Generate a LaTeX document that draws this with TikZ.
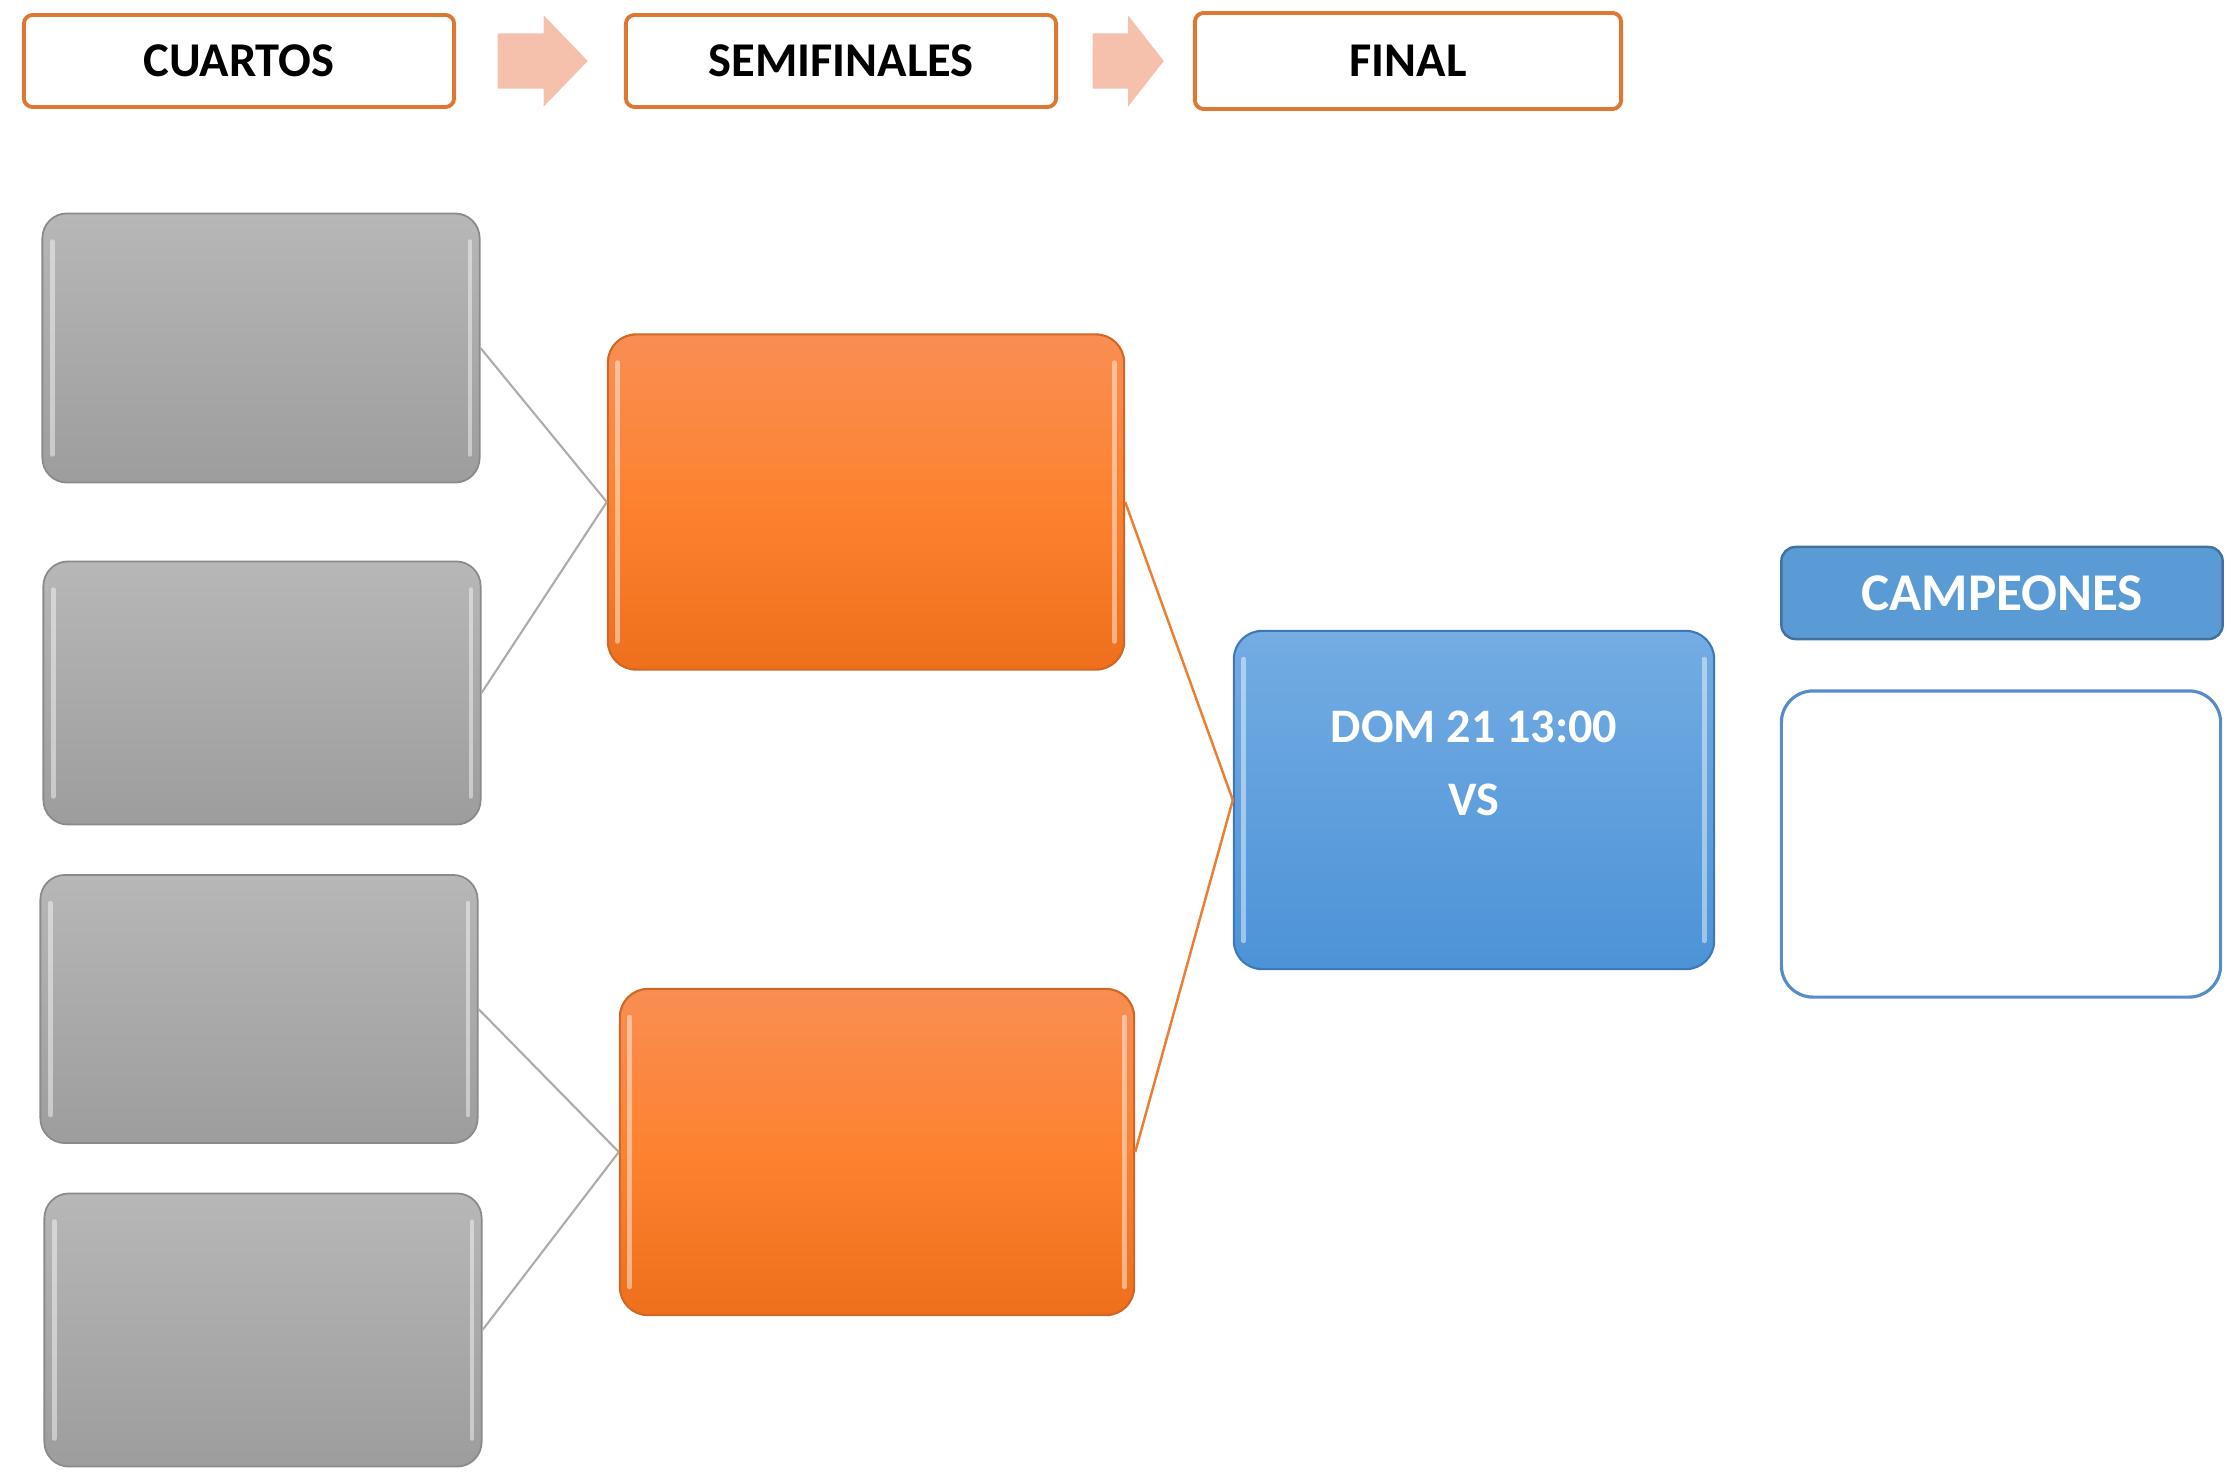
\documentclass[tikz,border=0pt]{standalone}
\usepackage{fontspec}
\setmainfont{Carlito}
\usetikzlibrary{shapes.arrows}
\definecolor{hdrorange}{RGB}{222,119,50}
\definecolor{arrowpink}{RGB}{245,193,173}
\definecolor{graytop}{RGB}{183,183,183}
\definecolor{graybot}{RGB}{157,157,157}
\definecolor{grayedge}{RGB}{138,138,138}
\definecolor{orangetop}{RGB}{249,142,83}
\definecolor{orangemid}{RGB}{253,130,48}
\definecolor{orangebot}{RGB}{238,111,28}
\definecolor{orangeedge}{RGB}{205,104,38}
\definecolor{bluetop}{RGB}{116,172,227}
\definecolor{bluebot}{RGB}{76,147,215}
\definecolor{blueedge}{RGB}{62,120,184}
\definecolor{campfill}{RGB}{91,155,213}
\definecolor{campedge}{RGB}{65,113,156}
\definecolor{champedge}{RGB}{88,140,200}
\definecolor{lineorange}{RGB}{237,125,49}
\definecolor{linegray}{RGB}{172,172,172}
\tikzset{
  gloss/.style={path picture={
    \draw[white,opacity=0.45,line width=1.3pt,line cap=round]
      ([xshift=2.8pt,yshift=-8pt]path picture bounding box.north west) -- ([xshift=2.8pt,yshift=8pt]path picture bounding box.south west);
    \draw[white,opacity=0.45,line width=1.3pt,line cap=round]
      ([xshift=-2.8pt,yshift=-8pt]path picture bounding box.north east) -- ([xshift=-2.8pt,yshift=8pt]path picture bounding box.south east);
  }},
  hdrbox/.style={rectangle,draw=hdrorange,line width=1.1pt,rounded corners=2.5pt,fill=white,inner sep=0,
    minimum width=4.3cm,minimum height=0.92cm,font=\bfseries\fontsize{13.8}{16}\selectfont},
  stagearrow/.style={single arrow,fill=arrowpink,inner xsep=0,inner ysep=0.27cm,minimum width=0.9cm,
    single arrow head extend=0.18cm,anchor=tail},
  qfbox/.style={rectangle,rounded corners=7pt,draw=grayedge,line width=0.5pt,
    top color=graytop,bottom color=graybot,minimum width=4.37cm,gloss},
  sfbox/.style={rectangle,rounded corners=8pt,draw=orangeedge,line width=0.6pt,
    top color=orangetop,bottom color=orangebot,middle color=orangemid,gloss},
  finbox/.style={rectangle,rounded corners=8pt,draw=blueedge,line width=0.6pt,
    top color=bluetop,bottom color=bluebot,gloss},
  grayconn/.style={draw=linegray,line width=0.6pt},
  orangeconn/.style={draw=lineorange,line width=0.7pt}
}
\begin{document}
\begin{tikzpicture}[x=0.01cm,y=-0.01cm]
\useasboundingbox (0,0) rectangle (2231,1479);
% stages
\node[hdrbox] (hcuartos) at (239,61) {CUARTOS};
\node[stagearrow,minimum height=0.9cm,single arrow tip angle=92] (arr1) at (497,61) {};
\node[hdrbox] (hsemis) at (841,61) {SEMIFINALES};
\node[stagearrow,minimum height=0.71cm,single arrow tip angle=104] (arr2) at (1092,61) {};
\node[hdrbox,minimum width=4.26cm,minimum height=0.96cm] (hfinal) at (1408,61) {FINAL};
% quarter finals
\node[qfbox,minimum height=2.69cm] (g1) at (261,348) {};
\node[qfbox,minimum height=2.63cm] (g2) at (262,693) {};
\node[qfbox,minimum height=2.68cm] (g3) at (259,1009) {};
\node[qfbox,minimum height=2.73cm] (g4) at (263,1330) {};
% semi finals
\node[sfbox,minimum width=5.16cm,minimum height=3.35cm] (s1) at (866,502) {};
\node[sfbox,minimum width=5.14cm,minimum height=3.26cm] (s2) at (877,1152) {};
% final
\node[finbox,minimum width=4.8cm,minimum height=3.38cm,text=white,align=center,
  font=\bfseries\fontsize{13.7}{20.8}\selectfont] (fin) at (1474,800) {DOM 21 13:00\\VS\\\mbox{}};
% champions
\node[rectangle,rounded corners=4pt,fill=campfill,draw=campedge,line width=0.7pt,
  minimum width=4.41cm,minimum height=0.92cm,text=white,
  font=\bfseries\fontsize{15.1}{17}\selectfont] (camp) at (2002,593) {CAMPEONES};
\node[rectangle,rounded corners=9pt,draw=champedge,line width=0.9pt,fill=white,
  minimum width=4.39cm,minimum height=3.06cm] (champ) at (2001,844) {};
% connectors
\draw[grayconn] (g1.east) -- (s1.west);
\draw[grayconn] (g2.east) -- (s1.west);
\draw[grayconn] (g3.east) -- (s2.west);
\draw[grayconn] (g4.east) -- (s2.west);
\draw[orangeconn] (s1.east) -- (fin.west);
\draw[orangeconn] (s2.east) -- (fin.west);
\end{tikzpicture}
\end{document}
